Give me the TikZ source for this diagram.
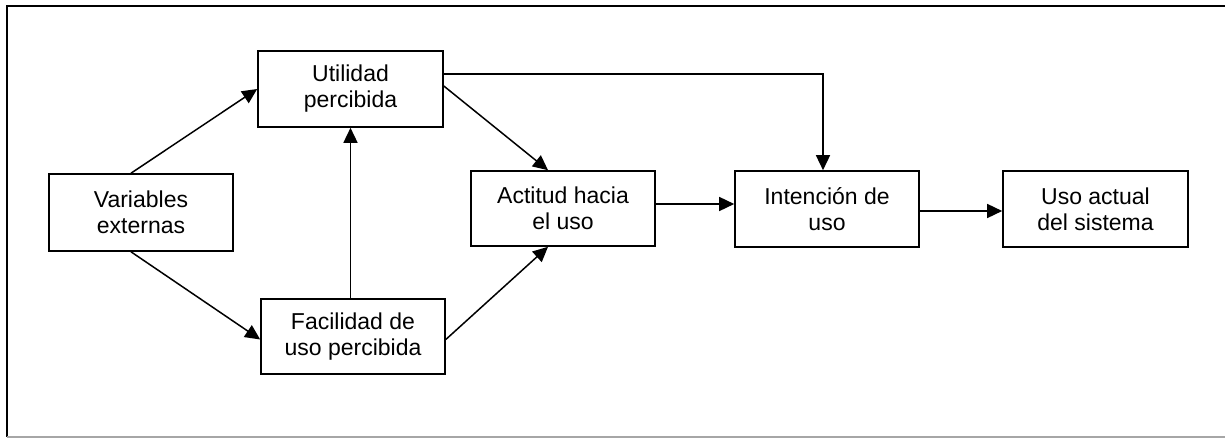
\documentclass[tikz,border=0pt]{standalone}
\usepackage{fontspec}
\setmainfont{Liberation Sans}
\usetikzlibrary{arrows.meta}
\begin{document}
\begin{tikzpicture}[x=1pt,y=-1pt,
  box/.style={draw,line width=1.6pt,rectangle,align=center,inner sep=0pt,
    font=\fontsize{23}{26}\selectfont},
  arr/.style={line width=1.5pt,-{Triangle[length=15pt,width=14pt]}},
  frame/.style={line width=2pt}]
\useasboundingbox (0,0) rectangle (1225,438);
\draw[frame] (1225,6) -- (6.5,6) -- (6.5,437);
\draw[line width=1.5pt,black!35] (6.5,437) -- (1225,437);
\node[box,minimum width=185pt,minimum height=76pt] (util) at (350.5,89) {Utilidad\\percibida};
\node[box,minimum width=184pt,minimum height=77pt] (var) at (141,212.5) {Variables\\externas};
\node[box,minimum width=184pt,minimum height=75pt] (fac) at (353,336.5) {Facilidad de\\uso percibida};
\node[box,minimum width=184pt,minimum height=75pt] (act) at (563,208.5) {Actitud hacia\\el uso};
\node[box,minimum width=184pt,minimum height=76pt] (int) at (827,209) {Intención de\\uso};
\node[box,minimum width=185pt,minimum height=76pt] (uso) at (1095.5,209) {Uso actual\\del sistema};
\draw[arr] ([xshift=-10pt]var.north) -- (util.west);
\draw[arr] ([xshift=-10pt]var.south) -- ([yshift=-3pt]fac.west);
\draw[arr] (util.south |- fac.north) -- (util.south);
\draw[arr] ([yshift=3pt]util.east) -- ([xshift=-15pt]act.north);
\draw[arr] ([yshift=-3pt]fac.east) -- ([xshift=-15pt]act.south);
\draw[arr] ([yshift=15pt]util.east) -| ([xshift=-4pt]int.north);
\draw[arr] ([yshift=4.5pt]act.east) -- ([yshift=5pt]int.west);
\draw[arr] ([yshift=-2pt]int.east) -- ([yshift=-2pt]uso.west);
\end{tikzpicture}
\end{document}
